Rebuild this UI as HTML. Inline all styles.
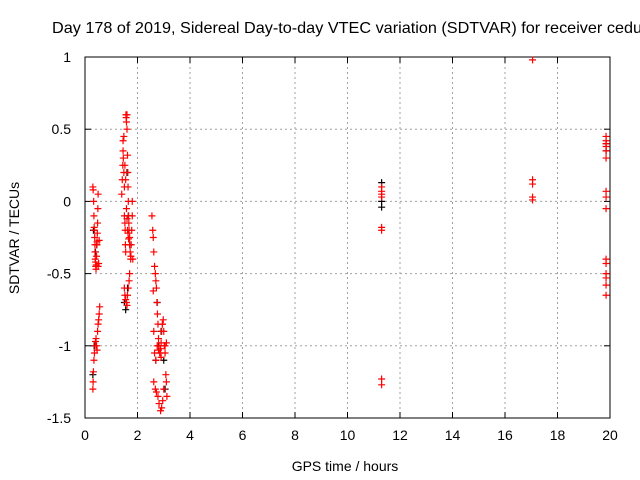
<!DOCTYPE html>
<html><head><meta charset="utf-8"><style>
body{margin:0;background:#fff}
svg{display:block;font-family:"Liberation Sans",sans-serif;font-size:14px}
</style></head><body>
<svg id="c" width="640" height="480">
<text x="52" y="33" font-size="16" textLength="590" lengthAdjust="spacingAndGlyphs">Day 178 of 2019, Sidereal Day-to-day VTEC variation (SDTVAR) for receiver cedu</text>
<g id="grid"></g>
<g id="axes"></g>
<g id="black"></g>
<g id="red"></g>
<text x="345" y="471" text-anchor="middle">GPS time / hours</text>
<text transform="translate(19,238) rotate(-90)" text-anchor="middle">SDTVAR / TECUs</text>
</svg>
<script>
const xTicks=[0,2,4,6,8,10,12,14,16,18,20];
const yTicks=[1,0.5,0,-0.5,-1,-1.5];
const yTickLabels=["1","0.5","0","-0.5","-1","-1.5"];
const redHours=[0.3,0.31,0.33,0.34,0.35,0.36,0.37,0.38,0.38,0.39,0.4,0.41,0.42,0.43,0.44,0.45,0.46,0.47,0.48,0.49,0.5,0.5,0.52,0.54,
0.3,0.31,0.32,0.34,0.36,0.38,0.4,0.42,0.44,0.46,0.48,0.5,0.52,0.54,0.56,
1.4,1.42,1.44,1.45,1.46,1.48,1.5,1.5,1.52,1.53,1.54,1.55,1.56,1.57,1.58,1.6,1.6,1.62,1.63,1.64,1.65,1.66,1.67,1.68,1.7,1.7,1.72,1.74,1.75,1.76,1.78,1.8,1.8,1.82,1.5,1.52,1.55,1.58,1.6,1.62,1.65,1.68,1.7,1.45,1.48,1.52,1.55,1.58,1.6,1.62,1.64,1.66,
2.55,2.58,2.6,2.62,2.65,2.68,2.7,2.72,2.74,2.76,2.78,2.8,2.82,2.85,2.88,2.9,2.92,2.95,2.98,3.0,3.02,3.05,3.08,3.1,3.12,2.6,2.62,2.65,2.7,2.75,2.8,2.85,2.9,2.95,2.62,2.68,2.72,2.78,2.82,2.88,2.92,2.96,3.0,3.05,3.1,
11.3,11.3,11.3,11.3,11.3,11.3,11.3,11.3,
17.05,17.05,17.05,17.05,17.05,
19.85,19.85,19.85,19.85,19.85,19.85,19.85,19.85,19.85,19.85,19.85,19.85,19.85,19.85,19.85];
const redValues=[0.1,0.08,0.0,-0.1,-0.18,-0.2,-0.25,-0.3,-0.35,-0.4,-0.42,-0.45,-0.47,-0.44,-0.38,-0.3,-0.28,-0.22,-0.15,-0.05,0.05,-0.45,-0.43,-0.27,
-1.3,-1.25,-1.18,-1.1,-1.05,-1.0,-0.97,-0.95,-1.0,-1.03,-0.9,-0.85,-0.82,-0.78,-0.73,
0.05,0.15,0.25,0.35,0.3,0.2,0.1,-0.1,-0.15,-0.2,-0.3,-0.35,0.6,0.58,0.55,0.6,0.5,0.32,0.2,0.1,0.0,-0.1,-0.15,-0.2,-0.25,-0.3,-0.35,-0.4,-0.38,-0.3,-0.2,-0.1,0.0,-0.4,-0.6,-0.65,-0.68,-0.7,-0.72,-0.65,-0.6,-0.55,-0.5,0.42,0.45,0.25,0.15,-0.05,-0.12,-0.2,-0.22,-0.26,
-0.1,-0.2,-0.25,-0.35,-0.45,-0.5,-0.55,-0.6,-0.7,-0.78,-0.85,-0.95,-1.0,-1.05,-1.02,-0.98,-0.9,-0.85,-0.82,-0.9,-1.0,-1.05,-1.2,-1.25,-1.35,-0.62,-0.9,-1.05,-1.1,-1.0,-1.03,-1.05,-1.08,-0.85,-1.25,-1.3,-1.32,-1.35,-1.4,-1.45,-1.43,-1.38,-1.3,-1.0,-0.98,
0.1,0.07,0.05,0.03,-0.18,-0.2,-1.23,-1.27,
0.98,0.15,0.12,0.03,0.01,
0.45,0.42,0.4,0.38,0.35,0.3,0.07,0.03,-0.05,-0.4,-0.43,-0.5,-0.53,-0.58,-0.65];
const blackHours=[0.32,0.4,0.45,0.3,0.35,1.5,1.55,1.6,1.65,1.7,1.62,2.7,2.8,2.9,3.0,3.05,2.75,11.3,11.3,11.3,19.85,19.85];
const blackValues=[-0.2,-0.35,-0.3,-1.2,-1.0,-0.7,-0.75,0.2,-0.1,-0.3,-0.6,-1.1,-1.0,-0.9,-1.1,-1.3,-0.7,0.13,0.0,-0.04,0.4,0.35];
const NS="http://www.w3.org/2000/svg";
const X0=85,X1=610,Y0=57,Y1=418;
const xs=h=>X0+(h-0)/20*(X1-X0);
const ys=v=>Y0+(1-v)/2.5*(Y1-Y0);
function mk(t,a,p){const e=document.createElementNS(NS,t);for(const k in a)e.setAttribute(k,a[k]);p.appendChild(e);return e;}
const grid=document.getElementById('grid'),axes=document.getElementById('axes');
xTicks.forEach(t=>{
  const x=xs(t);
  if(t>0&&t<20){const g=mk('line',{x1:x,x2:x,y1:Y0,y2:Y1,stroke:'#a0a0a0','stroke-dasharray':'2,3'},grid);
  
  }
  mk('line',{x1:x,x2:x,y1:Y1,y2:Y1-6,stroke:'#000'},axes);
  mk('line',{x1:x,x2:x,y1:Y0,y2:Y0+6,stroke:'#000'},axes);
  const l=mk('text',{x:x,y:Y1+22,'text-anchor':'middle'},axes);l.textContent=t;
  
  
});
yTicks.forEach((t,i)=>{
  const y=ys(t);
  if(t<1&&t>-1.5){const g=mk('line',{x1:X0,x2:X1,y1:y,y2:y,stroke:'#a0a0a0','stroke-dasharray':'2,3'},grid);
  
  }
  mk('line',{x1:X0,x2:X0+6,y1:y,y2:y,stroke:'#000'},axes);
  mk('line',{x1:X1,x2:X1-6,y1:y,y2:y,stroke:'#000'},axes);
  const l=mk('text',{x:X0-14,y:y+5,'text-anchor':'end'},axes);l.textContent=yTickLabels[i];
  
  
});
mk('rect',{x:X0,y:Y0,width:X1-X0,height:Y1-Y0,fill:'none',stroke:'#000'},axes);
function plus(p,h,v,col){
  const x=xs(h),y=ys(v);
  const e=mk('path',{d:`M${x-3.5} ${y}H${x+3.5}M${x} ${y-3.5}V${y+3.5}`,stroke:col,'stroke-width':1.2},p);
  
  
}
const bk=document.getElementById('black'),rd=document.getElementById('red');
blackHours.forEach((h,i)=>plus(bk,h,blackValues[i],'#000'));
redHours.forEach((h,i)=>plus(rd,h,redValues[i],'#f00'));
</script>
</body></html>
